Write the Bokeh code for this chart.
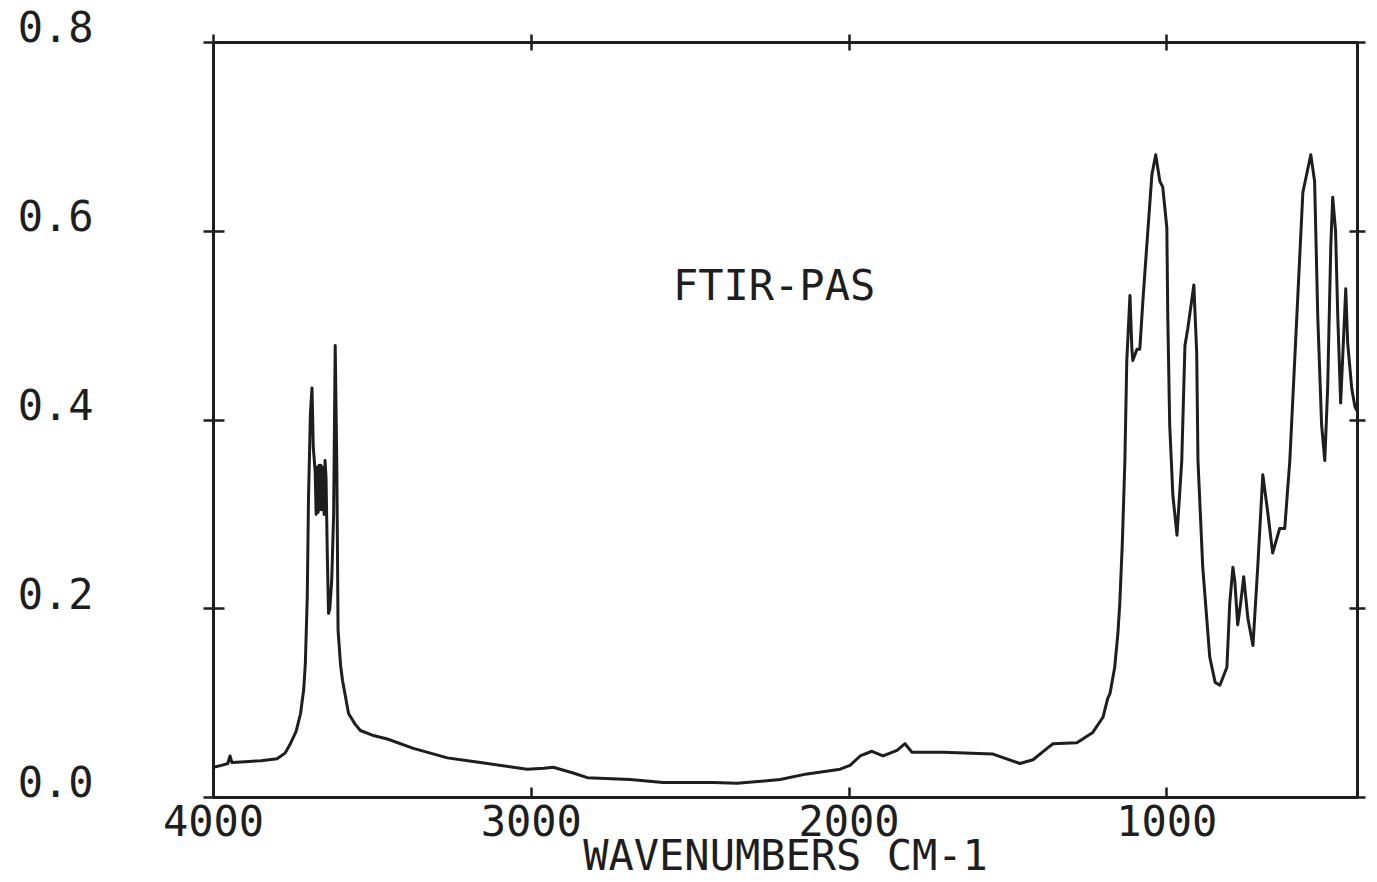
from bokeh.plotting import figure
from bokeh.models import Range1d, LinearAxis, FixedTicker, Label
from bokeh.embed import file_html
from bokeh.resources import INLINE

# Spectrum (wavenumber cm-1, absorbance)
wavenumber = [4000, 3975, 3955, 3948, 3942, 3900, 3850, 3800, 3775, 3758, 3740, 3726,
              3716, 3711, 3705, 3701, 3695, 3690, 3686, 3680, 3677, 3674, 3671, 3668,
              3665, 3662, 3659, 3656, 3652, 3649, 3646, 3642, 3638, 3634, 3628, 3622,
              3617, 3612, 3608, 3600, 3594, 3575, 3555, 3538, 3500, 3453, 3371, 3264,
              3160, 3013, 2960, 2931, 2868, 2824, 2689, 2585, 2428, 2352, 2217, 2132,
              2028, 1997, 1965, 1928, 1893, 1849, 1824, 1802, 1704, 1547, 1462, 1421,
              1377, 1358, 1283, 1233, 1201, 1186, 1179, 1164, 1154, 1148, 1140, 1132,
              1126, 1116, 1110, 1107, 1094, 1085, 1075, 1063, 1047, 1035, 1022, 1013,
              1000, 997, 991, 981, 968, 953, 943, 934, 915, 906, 902, 887, 865, 848,
              833, 811, 802, 792, 786, 777, 768, 758, 745, 729, 714, 698, 682, 667,
              645, 629, 613, 591, 572, 547, 535, 525, 513, 503, 494, 484, 478, 469,
              462, 453, 446, 437, 431, 418, 408, 402]
absorbance = [0.032, 0.034, 0.036, 0.044, 0.037, 0.038, 0.039, 0.041, 0.047, 0.057, 0.070, 0.089,
              0.115, 0.142, 0.212, 0.318, 0.407, 0.434, 0.371, 0.345, 0.300, 0.350, 0.302, 0.352,
              0.305, 0.352, 0.305, 0.350, 0.300, 0.357, 0.340, 0.260, 0.195, 0.200, 0.230, 0.300,
              0.479, 0.354, 0.177, 0.140, 0.124, 0.089, 0.078, 0.071, 0.066, 0.062, 0.052, 0.042,
              0.037, 0.030, 0.031, 0.032, 0.026, 0.021, 0.019, 0.016, 0.016, 0.015, 0.019, 0.025,
              0.030, 0.034, 0.044, 0.049, 0.044, 0.050, 0.057, 0.048, 0.048, 0.046, 0.036, 0.040,
              0.052, 0.057, 0.058, 0.069, 0.085, 0.105, 0.110, 0.138, 0.174, 0.206, 0.270, 0.357,
              0.463, 0.532, 0.475, 0.463, 0.475, 0.475, 0.528, 0.585, 0.660, 0.681, 0.653, 0.647,
              0.604, 0.509, 0.395, 0.320, 0.278, 0.357, 0.479, 0.497, 0.543, 0.471, 0.357, 0.244, 0.149, 0.122,
              0.119, 0.138, 0.206, 0.244, 0.229, 0.183, 0.205, 0.234, 0.190, 0.161, 0.244, 0.342, 0.301, 0.259,
              0.285, 0.285, 0.357, 0.509, 0.641, 0.681, 0.653, 0.509, 0.395, 0.357, 0.433, 0.585, 0.636, 0.600,
              0.509, 0.418, 0.471, 0.539, 0.482, 0.433, 0.414, 0.410]

x_ticks = [4000, 3000, 2000, 1000]
x_tick_labels = ["4000", "3000", "2000", "1000"]
y_ticks = [0.0, 0.2, 0.4, 0.6, 0.8]
y_tick_labels = ["0.0", "0.2", "0.4", "0.6", "0.8"]
x_title = "WAVENUMBERS CM-1"
annotation = "FTIR-PAS"

INK = "#1e1e1e"
FONT = "DejaVu Sans Mono"
FS = "42px"

p = figure(width=1377, height=882, x_range=Range1d(4000, 400), y_range=Range1d(0, 0.8),
           output_backend="svg", toolbar_location=None,
           x_axis_location=None, y_axis_location=None,
           min_border_left=213, min_border_right=20, min_border_top=42, min_border_bottom=85)
p.background_fill_color = "white"
p.border_fill_color = "white"
p.outline_line_color = INK
p.outline_line_width = 3
p.grid.visible = False


def style_axis(ax, ticks, tin, tout, show_labels=False, standoff=0):
    ax.ticker = FixedTicker(ticks=ticks)
    ax.axis_line_color = INK
    ax.axis_line_width = 3
    ax.major_tick_line_color = INK
    ax.major_tick_line_width = 2.5
    ax.major_tick_in = tin
    ax.major_tick_out = tout
    ax.minor_tick_line_color = None
    if show_labels:
        ax.major_label_text_font = FONT
        ax.major_label_text_font_size = FS
        ax.major_label_text_color = INK
        ax.major_label_standoff = standoff
    else:
        ax.major_label_text_font_size = "0px"
        ax.major_label_text_color = None
        ax.major_label_standoff = 0


bottom = LinearAxis(axis_label=x_title)
style_axis(bottom, x_ticks, 10, 0, show_labels=True, standoff=7)
bottom.major_label_overrides = {t: s for t, s in zip(x_ticks, x_tick_labels)}
bottom.axis_label_text_font = FONT
bottom.axis_label_text_font_size = FS
bottom.axis_label_text_font_style = "normal"
bottom.axis_label_text_color = INK
bottom.axis_label_standoff = -8
p.add_layout(bottom, "below")

top = LinearAxis()
style_axis(top, x_ticks, 8, 8)
p.add_layout(top, "above")

# tick labels sit just above their ticks in the original: a trailing blank line lifts them
left = LinearAxis()
style_axis(left, y_ticks, 11, 10, show_labels=True, standoff=110)
left.major_label_overrides = {t: s + "\n" for t, s in zip(y_ticks, y_tick_labels)}
left.major_label_orientation = "horizontal"
left.major_label_text_line_height = 0.6
p.add_layout(left, "left")

right = LinearAxis()
style_axis(right, y_ticks, 8, 8)
p.add_layout(right, "right")

p.line(wavenumber, absorbance, line_color=INK, line_width=3, line_join="round")

p.add_layout(Label(x=2236, y=0.5425, text=annotation, text_align="center", text_baseline="middle",
                   text_font=FONT, text_font_size=FS, text_color=INK))

open("out.html", "w").write(file_html(p, INLINE))
